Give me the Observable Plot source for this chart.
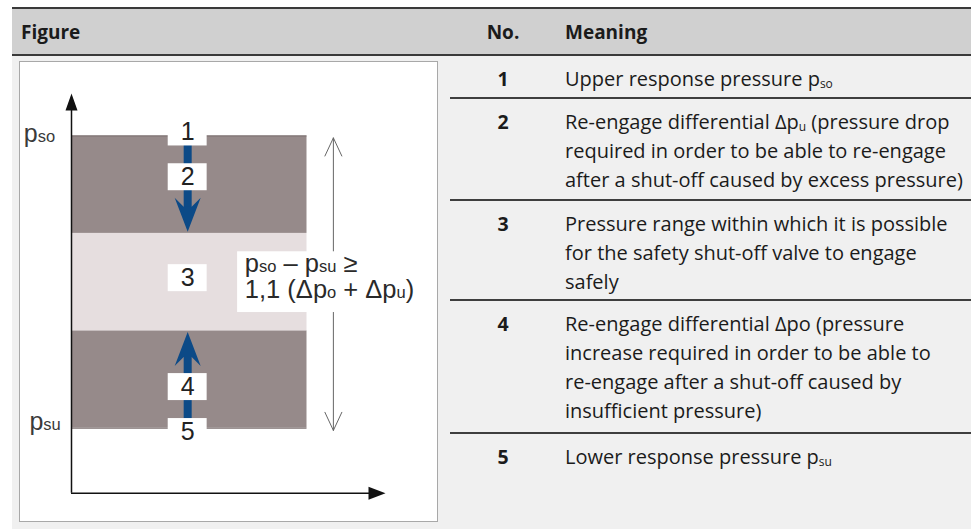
<!DOCTYPE html>
<html><head><meta charset="utf-8">
<script src="https://cdn.jsdelivr.net/npm/d3@7"></script>
<script src="https://cdn.jsdelivr.net/npm/@observablehq/plot@0.6"></script>
<style>
html,body{margin:0;padding:0;background:#fff;}
body{width:971px;height:529px;position:relative;overflow:hidden;font-family:"Open Sans",sans-serif;color:#1b1b1b;}
#bg{position:absolute;left:12px;top:8px;right:0;bottom:0;background:#f0f0f0;}
#head{position:absolute;left:12px;right:0;top:7px;height:45px;background:#d0d0d0;border-top:2px solid #3a3a3a;border-bottom:2px solid #3a3a3a;}
.hd{position:absolute;font-size:19px;line-height:26px;font-weight:700;white-space:nowrap;}
#fig{position:absolute;left:19px;top:61px;width:417px;height:459px;border:1px solid #a8a8a8;background:#fff;}
#fig svg{display:block;}
.sep{position:absolute;left:450px;right:0;height:2px;background:#3e3e3e;}
.num{position:absolute;left:482px;width:42px;text-align:center;font-weight:700;font-size:19.5px;line-height:29px;}
.mean{position:absolute;left:565px;font-size:20px;line-height:29px;white-space:nowrap;}
.mean sub{font-size:0.6em;line-height:0;vertical-align:-0.18em;}
</style></head>
<body>
<div id="bg"></div>
<div id="head"></div>
<div id="fig"></div>
<div id="table"></div>
<script>
// ---------- table content ----------
const headerLabels = ["Figure", "No.", "Meaning"];
const rowNumbers = ["1", "2", "3", "4", "5"];
const rowMeanings = [
  ["Upper response pressure p_{so}"],
  ["Re-engage differential Δp_{u} (pressure drop", "required in order to be able to re-engage", "after a shut-off caused by excess pressure)"],
  ["Pressure range within which it is possible", "for the safety shut-off valve to engage", "safely"],
  ["Re-engage differential Δpo (pressure", "increase required in order to be able to", "re-engage after a shut-off caused by", "insufficient pressure)"],
  ["Lower response pressure p_{su}"]
];

// ---------- figure data (pressure vs. time, arbitrary units) ----------
const bandLevels = [16.25, 40.625, 65, 89.375];      // psu ... pso
const bandShades = ["#968a8a", "#e6dedf", "#968a8a"]; // lower, safe range, upper
const bandEnd = 75;
const levelLabels = ["p_{so}", "p_{su}"];
const levelLabelX = [-15.2, -13.4];
const levelLabelY = [87.75, 15.8];
const markerNumbers = ["1", "2", "3", "4", "5"];
const markerY = [90.25, 79.05, 53.8, 26.55, 15.3];
const markerX = 37;
const flowFrom = [90.25, 15.3];
const flowTo = [65.4, 40.3];
const flowDir = ["down", "up"];
const spanX = 83.4;
const spanEnds = [88.9, 15.7];
const spanMid = 52.5;
const formulaLines = ["p_{so} – p_{su} ≥", "1,1 (Δp_{o} + Δp_{u})"];
const formulaX = 55.2;
const formulaY = [55.4, 48.9];
const formulaBox = {x1: 52.9, x2: 110.5, y1: 45.2, y2: 60.4};

// ---------- build table ----------
const hdLeft = [9, null, 553]; // relative to header band (which starts at x=12)
const head = document.getElementById("head");
headerLabels.forEach((t, i) => {
  const d = document.createElement("div");
  d.className = "hd";
  d.textContent = t;
  if (i === 1) { d.style.left = "461px"; d.style.width = "60px"; d.style.textAlign = "center"; }
  else d.style.left = hdLeft[i] + "px";
  d.style.top = "10.4px";
  head.appendChild(d);
});
const rowTops = [56, 99, 201, 301, 434];
const sepYs = [97, 199, 299, 432];
const table = document.getElementById("table");
sepYs.forEach(y => { const s = document.createElement("div"); s.className = "sep"; s.style.top = y + "px"; table.appendChild(s); });
const toHTML = s => s.replace(/_\{([^}]*)\}/g, "<sub>$1</sub>");
rowNumbers.forEach((n, i) => {
  const a = document.createElement("div"); a.className = "num"; a.style.top = (rowTops[i] + 8) + "px"; a.textContent = n; table.appendChild(a);
  const b = document.createElement("div"); b.className = "mean"; b.style.top = (rowTops[i] + 7.5) + "px";
  b.innerHTML = rowMeanings[i].map(toHTML).join("<br>"); table.appendChild(b);
});

// ---------- figure ----------
const blue = "#0c4a87";
const bands = bandShades.map((c, i) => ({y1: bandLevels[i], y2: bandLevels[i + 1], c}));
const markers = markerNumbers.map((t, i) => ({t, y: markerY[i]}));
const flows = flowDir.map((d, i) => ({d, from: flowFrom[i], to: flowTo[i], stop: flowTo[i] + (d === "down" ? 6 : -6)}));
const levelText = levelLabels.map((t, i) => ({t, x: levelLabelX[i], y: levelLabelY[i]}));
const formula = formulaLines.map((t, i) => ({t, y: formulaY[i]}));

const sc = size => Math.sqrt(size / Math.PI) / 17;
const headDown = {draw(c, s) { const k = sc(s); c.moveTo(0, 0); c.lineTo(13*k, -34*k); c.lineTo(4*k, -25*k); c.lineTo(-4*k, -25*k); c.lineTo(-13*k, -34*k); c.closePath(); }};
const headUp = {draw(c, s) { const k = sc(s); c.moveTo(0, 0); c.lineTo(13*k, 34*k); c.lineTo(4*k, 25*k); c.lineTo(-4*k, 25*k); c.lineTo(-13*k, 34*k); c.closePath(); }};
const axisUp = {draw(c, s) { const k = sc(s); c.moveTo(0, 0); c.lineTo(6*k, 17*k); c.lineTo(-6*k, 17*k); c.closePath(); }};
const axisRight = {draw(c, s) { const k = sc(s); c.moveTo(0, 0); c.lineTo(-17*k, 6.5*k); c.lineTo(-17*k, -6.5*k); c.closePath(); }};

const font = "'Liberation Sans', Arial, sans-serif";
const chart = Plot.plot({
  width: 417, height: 459,
  marginLeft: 51, marginRight: 52, marginTop: 31, marginBottom: 28.3,
  x: {domain: [0, 100], axis: null},
  y: {domain: [0, 100], axis: null},
  style: {background: "white", overflow: "visible", fontFamily: font, color: "#2a2a2a"},
  marks: [
    Plot.rectY(bands, {x1: 0, x2: bandEnd, y1: "y1", y2: "y2", fill: "c"}),
    Plot.ruleY([bandLevels[0], bandLevels[3]], {x1: 0, x2: bandEnd, stroke: "#7a6e6e", strokeWidth: 1}),
    Plot.ruleX([0], {y1: 0, y2: 97, stroke: "#111", strokeWidth: 1.5}),
    Plot.ruleY([0], {x1: 0, x2: 97, stroke: "#111", strokeWidth: 1.5}),
    Plot.dot([0], {x: 0, y: 100, r: 17, symbol: axisUp, fill: "#111", stroke: "none"}),
    Plot.dot([0], {x: 100, y: 0, r: 17, symbol: axisRight, fill: "#111", stroke: "none"}),
    Plot.arrow(spanEnds, {x1: spanX, x2: spanX, y1: spanMid, y2: d => d, stroke: "#666", strokeWidth: 1, headLength: 30, headAngle: 50}),
    Plot.rect([formulaBox], {x1: "x1", x2: "x2", y1: "y1", y2: "y2", fill: "white"}),
    Plot.text(formula, {x: formulaX, y: "y", text: "t", textAnchor: "start", lineAnchor: "bottom", fontSize: 25.5, fill: "#2a2a2a"}),
    Plot.ruleX(flows, {x: markerX, y1: "from", y2: "stop", stroke: blue, strokeWidth: 8}),
    Plot.rect(markers, {x1: markerX - 6.2, x2: markerX + 6.2, y1: d => d.y - 3.375, y2: d => d.y + 3.375, fill: "white"}),
    Plot.text(markers, {x: markerX, y: "y", text: "t", fontSize: 25, lineAnchor: "middle", fill: "#222"}),
    Plot.dot(flows.filter(d => d.d === "down"), {x: markerX, y: "to", r: 17, symbol: headDown, fill: blue, stroke: "none"}),
    Plot.dot(flows.filter(d => d.d === "up"), {x: markerX, y: "to", r: 17, symbol: headUp, fill: blue, stroke: "none"}),
    Plot.text(levelText, {x: "x", y: "y", text: "t", textAnchor: "start", lineAnchor: "bottom", fontSize: 25, fill: "#3a3a3a"})
  ]
});
// rich text: turn _{..} into small same-baseline tspans
chart.querySelectorAll("text").forEach(el => {
  const nodes = el.querySelectorAll("tspan").length ? Array.from(el.querySelectorAll("tspan")) : [el];
  nodes.forEach(n => {
    const s = n.textContent;
    if (!s.includes("_{")) return;
    n.textContent = "";
    const re = /_\{([^}]*)\}/g; let last = 0, m;
    while ((m = re.exec(s))) {
      if (m.index > last) n.appendChild(document.createTextNode(s.slice(last, m.index)));
      const t = document.createElementNS("http://www.w3.org/2000/svg", "tspan");
      t.setAttribute("font-size", "16.5");
      t.textContent = m[1];
      n.appendChild(t);
      last = re.lastIndex;
    }
    if (last < s.length) n.appendChild(document.createTextNode(s.slice(last)));
  });
});
document.getElementById("fig").appendChild(chart);
</script>
</body></html>
